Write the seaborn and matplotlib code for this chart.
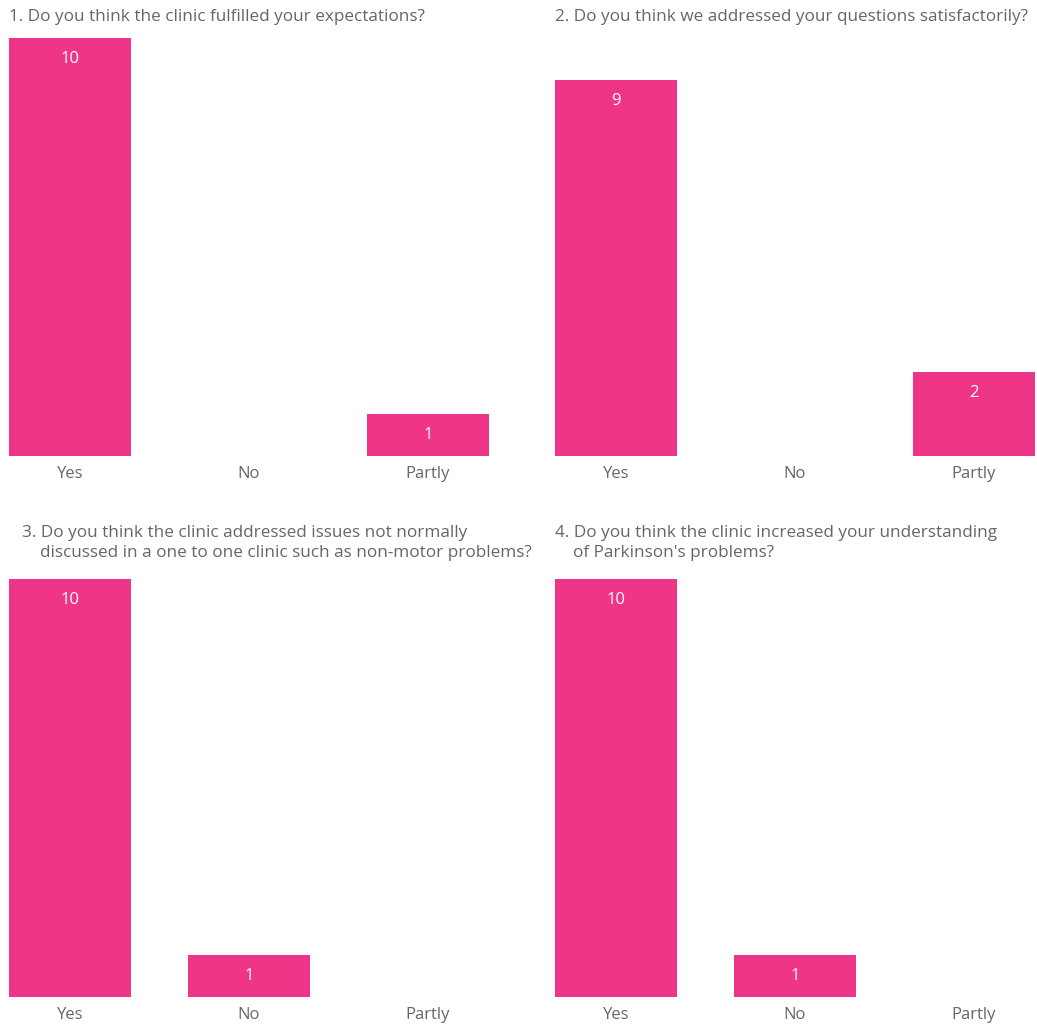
import matplotlib
matplotlib.use("Agg")
import matplotlib.pyplot as plt
import seaborn as sns
import pandas as pd

# answers and counts for each survey question
answers = ["Yes", "No", "Partly"]
q1_counts = [10, 0, 1]
q2_counts = [9, 0, 2]
q3_counts = [10, 1, 0]
q4_counts = [10, 1, 0]
titles = [
    "1. Do you think the clinic fulfilled your expectations?",
    "2. Do you think we addressed your questions satisfactorily?",
    "3. Do you think the clinic addressed issues not normally\n    discussed in a one to one clinic such as non-motor problems?",
    "4. Do you think the clinic increased your understanding\n    of Parkinson's problems?",
]

pink = "#EE3588"
grey = "#666666"

sns.set_style("white")
plt.rcParams["font.family"] = ["Open Sans", "DejaVu Sans"]

W, H = 1037, 1027
fig = plt.figure(figsize=(W / 100, H / 100), dpi=100)

# axes boxes in pixels: left, right, baseline, top-of-10
boxes = [(9, 489, 456, 38), (555, 1035, 456, 38), (9, 489, 997, 579), (555, 1035, 997, 579)]
title_pos = [(9, 9), (555, 9), (22, 525), (555, 525)]
all_counts = [q1_counts, q2_counts, q3_counts, q4_counts]

for counts, title, (l, r, b, t), (tx, ty) in zip(all_counts, titles, boxes, title_pos):
    ax = fig.add_axes([l / W, 1 - b / H, (r - l) / W, (b - t) / H])
    df = pd.DataFrame({"answer": answers, "count": counts})
    sns.barplot(data=df, x="answer", y="count", color=pink, saturation=1,
                width=0.68, linewidth=0, ax=ax)
    ax.set_xlim(-0.34, 2.34)
    ax.set_ylim(0, 10)
    ax.set_xlabel("")
    ax.set_ylabel("")
    ax.set_yticks([])
    ax.tick_params(axis="x", length=0, pad=7, labelsize=12, labelcolor=grey)
    sns.despine(ax=ax, left=True, bottom=True)
    for i, c in enumerate(counts):
        if c > 0:
            ax.annotate(str(c), (i, c), xytext=(0, -21), textcoords="offset pixels",
                        ha="center", va="center", color="white", fontsize=12)
    fig.text(tx / W, 1 - ty / H, title, ha="left", va="top",
             fontsize=12.3, color=grey, linespacing=1.32)

fig.savefig("out.png", dpi=100)
